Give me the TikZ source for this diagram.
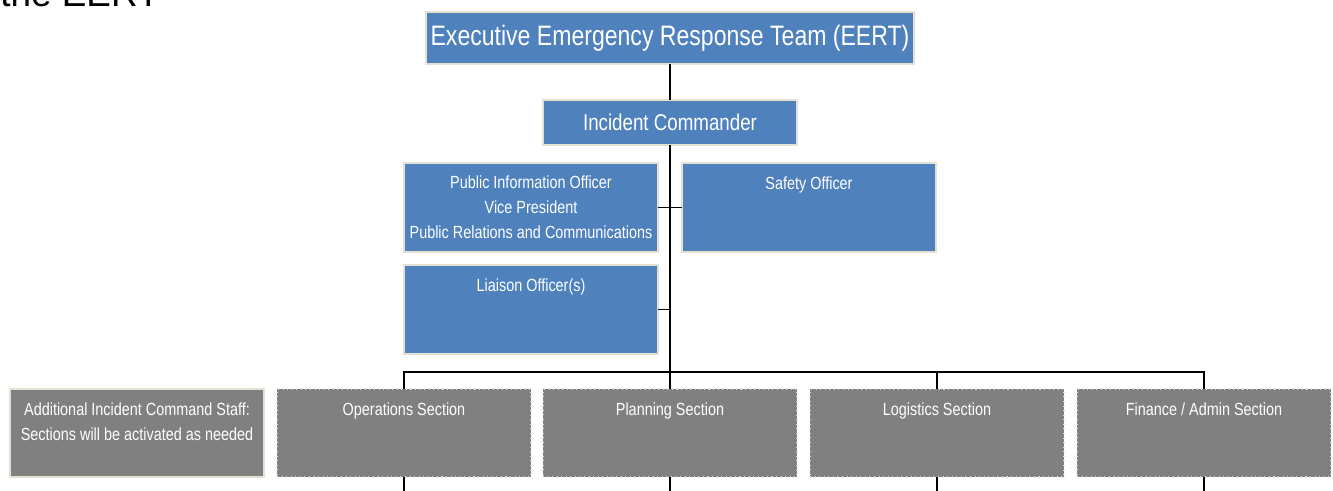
\documentclass[tikz,border=0pt]{standalone}
\usepackage{fontspec}
\setmainfont{Liberation Sans}[FakeStretch=0.82]
\newfontfamily\leadfont{Liberation Sans}
\definecolor{boxblue}{RGB}{79,129,189}
\definecolor{boxgrey}{RGB}{128,128,128}
\definecolor{boxedge}{RGB}{228,224,212}
\tikzset{
	orgbox/.style={draw=boxedge, line width=0.6pt, text=white, inner sep=0pt, outer sep=0pt, align=center, font=\fontsize{10}{14.2}\selectfont},
	bluebox/.style={orgbox, fill=boxblue, minimum width=5.08cm, minimum height=1.78cm},
	greybox/.style={orgbox, fill=boxgrey, minimum width=5.08cm, minimum height=1.76cm},
	toplbl/.style={anchor=north, text=white, inner sep=0pt, yshift=-7.5pt, align=center, font=\fontsize{10}{14.2}\selectfont},
	link/.style={draw=black, line width=0.6pt}
}

\begin{document}
\begin{tikzpicture}[x=0.2mm, y=-0.2mm]
			%%%%% START %%%%%
			\useasboundingbox (0,0) rectangle (1333,490);
			
			\node[font=\leadfont\fontsize{21}{25}\selectfont, anchor=base west, inner sep=0pt] (lead) at (0,7) {the EERT};
			
			\node[orgbox, fill=boxblue, minimum width=9.76cm, minimum height=1.04cm, font=\fontsize{16}{19}\selectfont] (eert) at (670,38) {Executive Emergency Response Team (EERT)};
			\node[orgbox, fill=boxblue, minimum width=5.08cm, minimum height=0.9cm, font=\fontsize{13}{16}\selectfont] (ic) at (670,122.5) {Incident Commander};
			
			\node[bluebox] (pio) at (531,207.5) {Public Information Officer\\Vice President\\Public Relations and Communications};
			\node[bluebox, label={[toplbl]north:Safety Officer}] (safety) at (809,207.5) {};
			\node[bluebox, label={[toplbl]north:Liaison Officer(s)}] (liaison) at (531,309.5) {};
			
			\node[greybox, label={[toplbl]north:{Additional Incident Command Staff:\\Sections will be activated as needed}}] (extra) at (137,433) {};
			\node[greybox, dotted, label={[toplbl]north:Operations Section}] (ops) at (404,433) {};
			\node[greybox, dotted, label={[toplbl]north:Planning Section}] (plan) at (670,433) {};
			\node[greybox, dotted, label={[toplbl]north:Logistics Section}] (logi) at (937,433) {};
			\node[greybox, dotted, label={[toplbl]north:Finance / Admin Section}] (fin) at (1204,433) {};
			
			\coordinate (bus) at (670,372);
			
			\draw[link] (eert.south) -- (ic.north);
			\draw[link] (ic.south) -- (plan.north);
			\draw[link] (pio.east) -- (safety.west);
			\draw[link] (liaison.east) -- (liaison.east -| ic.south);
			\draw[link] (ops.north) |- (bus) -| (fin.north);
			\draw[link] (logi.north) -- (logi.north |- bus);
			\foreach \s in {ops,plan,logi,fin}
				\draw[link] (\s.south) -- ++(0,15);
			%%%%% END %%%%%
\end{tikzpicture}
\end{document}
